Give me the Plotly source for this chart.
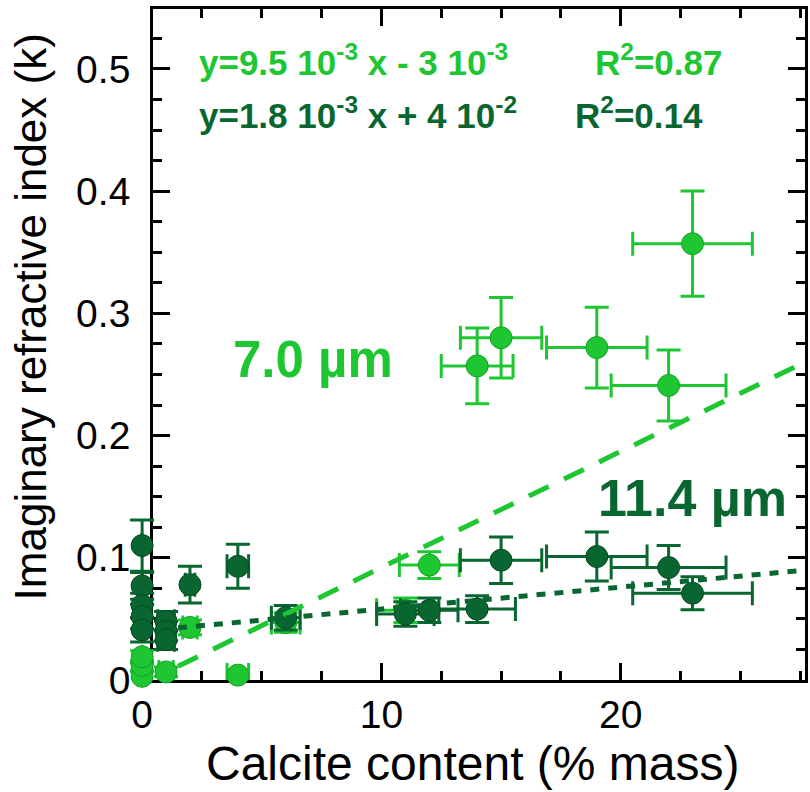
import plotly.graph_objects as go

# ---------------- data ----------------
# 7.0 µm series (light green)
light_x = [0, 0, 0, 1, 2, 4, 6, 11, 12, 14, 15, 19, 22, 23]
light_y = [0.003, 0.012, 0.019, 0.0066, 0.043, 0.004, 0.047, 0.057, 0.094,
           0.257, 0.280, 0.272, 0.241, 0.357]
light_xerr = [0, 0, 0, 0.3, 0.3, 0.45, 0.6, 1.2, 1.25, 1.5, 1.7, 2.1, 2.4, 2.5]
light_yerr = [0.004, 0.004, 0.005, 0.004, 0.006, 0.003, 0.008, 0.010, 0.011,
              0.031, 0.033, 0.033, 0.029, 0.043]

# 11.4 µm series (dark green)
dark_x = [0, 0, 0, 0, 0, 1, 1, 1, 2, 4, 6, 11, 12, 14, 15, 19, 22, 23]
dark_y = [0.110, 0.077, 0.061, 0.052, 0.041, 0.048, 0.040, 0.033, 0.078, 0.093,
          0.051, 0.054, 0.057, 0.058, 0.098, 0.101, 0.092, 0.071]
dark_xerr = [0, 0, 0, 0, 0, 0.35, 0.35, 0.35, 0.2, 0.45, 0.6, 1.2, 1.2, 1.6,
             1.7, 2.1, 2.4, 2.5]
dark_yerr = [0.021, 0.011, 0.010, 0.010, 0.010, 0.008, 0.008, 0.008, 0.015,
             0.018, 0.010, 0.010, 0.010, 0.011, 0.019, 0.020, 0.018, 0.0135]

# linear fits
light_slope, light_intercept = 9.5e-3, -3e-3
dark_slope, dark_intercept = 1.8e-3, 4e-2
fit_x = [1.5, 28.0]

x_tick_vals = [0, 10, 20]
x_tick_labels = ["0", "10", "20"]

# ---------------- style / geometry ----------------
LIGHT = "#1EC732"
LIGHT_EDGE = "#17A02A"
DARK = "#0A6631"
DARK_EDGE = "#064A22"
FONT = "Liberation Sans, Arial, Helvetica, sans-serif"

W, H = 810, 792
L_DATA, L_FRAME, R_FRAME, T_FRAME, B_FRAME = 128, 153, 808, 9, 680
X_MIN, X_MAX = 0.45, 27.7      # visible frame range
Y_MIN, Y_MAX = 0.0, 0.549

plot_w = R_FRAME - L_DATA
plot_h = B_FRAME - T_FRAME
scale = (R_FRAME - L_FRAME) / (X_MAX - X_MIN)
XD_MIN = X_MIN - (L_FRAME - L_DATA) / scale   # data subplot extends a bit left


def px_to_paper_x(px):
    return (px - L_DATA) / plot_w


def px_to_paper_y(py):
    return (B_FRAME - py) / plot_h


def fit(slope, intercept):
    return [slope * v + intercept for v in fit_x]


fig = go.Figure()

# empty trace that carries the frame axes (x / y)
fig.add_trace(go.Scatter(x=[None], y=[None], xaxis="x", yaxis="y",
                         showlegend=False, hoverinfo="skip"))

fig.add_trace(go.Scatter(
    x=light_x, y=light_y, mode="markers", cliponaxis=False, xaxis="x2", yaxis="y2",
    marker=dict(size=22, color=LIGHT, line=dict(width=1, color=LIGHT_EDGE)),
    error_x=dict(type="data", array=light_xerr, color=LIGHT, thickness=3, width=12),
    error_y=dict(type="data", array=light_yerr, color=LIGHT, thickness=3, width=12),
    showlegend=False, name="7.0 µm"))

fig.add_trace(go.Scatter(
    x=dark_x, y=dark_y, mode="markers", cliponaxis=False, xaxis="x2", yaxis="y2",
    marker=dict(size=22, color=DARK, line=dict(width=1, color=DARK_EDGE)),
    error_x=dict(type="data", array=dark_xerr, color=DARK, thickness=3, width=12),
    error_y=dict(type="data", array=dark_yerr, color=DARK, thickness=3, width=12),
    showlegend=False, name="11.4 µm"))

fig.add_trace(go.Scatter(
    x=fit_x, y=fit(light_slope, light_intercept), mode="lines", xaxis="x2", yaxis="y2",
    line=dict(color=LIGHT, width=5, dash="22px,17px"), showlegend=False))

fig.add_trace(go.Scatter(
    x=fit_x, y=fit(dark_slope, dark_intercept), mode="lines", xaxis="x2", yaxis="y2",
    line=dict(color=DARK, width=5, dash="9px,9px"), showlegend=False))

axis_common = dict(showgrid=False, zeroline=False, color="black")
tick_common = dict(showline=True, linewidth=2.5, linecolor="black", mirror="allticks",
                   ticks="inside", ticklen=17, tickwidth=2.5, tickcolor="black")

fig.update_layout(
    width=W, height=H,
    margin=dict(l=L_DATA, r=W - R_FRAME, t=T_FRAME, b=H - B_FRAME),
    paper_bgcolor="white", plot_bgcolor="rgba(0,0,0,0)",
    font=dict(family=FONT, color="black"),
    xaxis=dict(
        **axis_common, **tick_common,
        domain=[px_to_paper_x(L_FRAME), 1], range=[X_MIN, X_MAX],
        tick0=0, dtick=10, showticklabels=False,
        minor=dict(ticks="inside", ticklen=9, tickwidth=2.5, tickcolor="black",
                   dtick=2.5, tick0=0, showgrid=False),
    ),
    yaxis=dict(
        **axis_common, **tick_common, range=[Y_MIN, Y_MAX],
        tick0=0, dtick=0.1, tickfont=dict(size=39, family=FONT),
        ticklabelstandoff=12,
        minor=dict(ticks="inside", ticklen=9, tickwidth=2.5, tickcolor="black",
                   dtick=0.025, tick0=0, showgrid=False),
    ),
    xaxis2=dict(
        **axis_common, domain=[0, 1], range=[XD_MIN, X_MAX], anchor="y2",
        showline=False, ticks="", tickvals=x_tick_vals, ticktext=x_tick_labels,
        tickfont=dict(size=39, family=FONT), ticklabelstandoff=8,
    ),
    yaxis2=dict(domain=[0, 1], range=[Y_MIN, Y_MAX], anchor="x2", visible=False),
)

# axis titles
fig.add_annotation(text="Calcite content (% mass)", xref="paper", yref="paper",
                   x=px_to_paper_x(475), y=px_to_paper_y(763),
                   xanchor="center", yanchor="middle", showarrow=False,
                   font=dict(size=48, family=FONT, color="black"))
fig.add_annotation(text="Imaginary refractive index (k)", xref="paper", yref="paper",
                   x=px_to_paper_x(31), y=px_to_paper_y(317), textangle=-90,
                   xanchor="center", yanchor="middle", showarrow=False,
                   font=dict(size=44, family=FONT, color="black"))

ann = [
    ("<b>y=9.5 10<sup>-3</sup> x - 3 10<sup>-3</sup></b>", 2.29, 0.507, LIGHT, 35),
    ("<b>R<sup>2</sup>=0.87</b>", 18.83, 0.507, LIGHT, 35),
    ("<b>y=1.8 10<sup>-3</sup> x + 4 10<sup>-2</sup></b>", 2.29, 0.464, DARK, 35),
    ("<b>R<sup>2</sup>=0.14</b>", 18.0, 0.464, DARK, 35),
    ("<b>7.0 µm</b>", 3.71, 0.262, LIGHT, 51),
    ("<b>11.4 µm</b>", 18.95, 0.149, DARK, 52),
]
for text, ax, ay, col, size in ann:
    fig.add_annotation(x=ax, y=ay, xref="x2", yref="y2", text=text, showarrow=False,
                       xanchor="left", yanchor="middle",
                       font=dict(size=size, color=col, family=FONT))

fig.write_html("out.html")
